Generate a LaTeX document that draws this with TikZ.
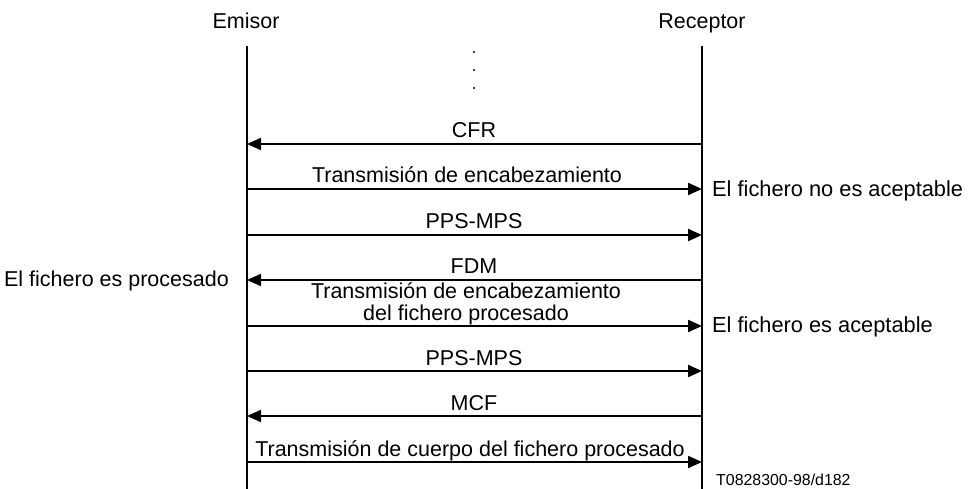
\documentclass[tikz,border=0pt]{standalone}
\usepackage{fontspec}
\setmainfont{Liberation Sans}
\usetikzlibrary{arrows.meta}
\begin{document}
\begin{tikzpicture}[x=1pt,y=-1pt,
  life/.style={line width=2pt},
  msg/.style={line width=2.2pt,-{Triangle[length=14pt,width=12pt]}},
  lbl/.style={anchor=base,inner sep=0pt,font=\fontsize{21.5}{24}\selectfont},
  rlbl/.style={anchor=base west,inner sep=0pt,font=\fontsize{21.8}{24}\selectfont},
  llbl/.style={anchor=base east,inner sep=0pt,font=\fontsize{21.5}{24}\selectfont},
  tag/.style={anchor=base west,inner sep=0pt,font=\fontsize{15.9}{18}\selectfont}]
\useasboundingbox (0,0) rectangle (970,489);
\fill[white] (0,0) rectangle (970,489);
% headers
\node[lbl] (emisor) at (246,29) {Emisor};
\node[lbl] (receptor) at (702,29) {Receptor};
% lifelines
\coordinate (etop) at (247,46);
\coordinate (ebot) at (247,489);
\coordinate (rtop) at (702,46);
\coordinate (rbot) at (702,489);
\draw[life] (etop) -- (ebot);
\draw[life] (rtop) -- (rbot);
% dots
\fill (474,52) circle (1.2pt);
\fill (474,70) circle (1.2pt);
\fill (474,88) circle (1.2pt);
% message endpoints
\foreach \i/\y in {1/144,2/189,3/235,4/280,5/326,6/371,7/416,8/462}{
  \coordinate (e\i) at (247,\y);
  \coordinate (r\i) at (702,\y);
}
\draw[msg] (r1) -- (e1);
\draw[msg] (e2) -- (r2);
\draw[msg] (e3) -- (r3);
\draw[msg] (r4) -- (e4);
\draw[msg] (e5) -- (r5);
\draw[msg] (e6) -- (r6);
\draw[msg] (r7) -- (e7);
\draw[msg] (e8) -- (r8);
% message labels
\node[lbl] (m1) at (474,138) {CFR};
\node[lbl] (m2) at (467,183) {Transmisión de encabezamiento};
\node[lbl] (m3) at (474,229) {PPS-MPS};
\node[lbl] (m4) at (474,274) {FDM};
\node[lbl] (m5a) at (466,299) {Transmisión de encabezamiento};
\node[lbl] (m5b) at (466,320) {del fichero procesado};
\node[lbl] (m6) at (474,365) {PPS-MPS};
\node[lbl] (m7) at (474,410) {MCF};
\node[lbl] (m8) at (470,456) {Transmisión de cuerpo del fichero procesado};
% side notes
\node[rlbl] (n1) at (712,197) {El fichero no es aceptable};
\node[rlbl] (n2) at (712,333) {El fichero es aceptable};
\node[llbl] (n3) at (229,287) {El fichero es procesado};
\node[tag] (t) at (716,485) {T0828300-98/d182};
\end{tikzpicture}
\end{document}
